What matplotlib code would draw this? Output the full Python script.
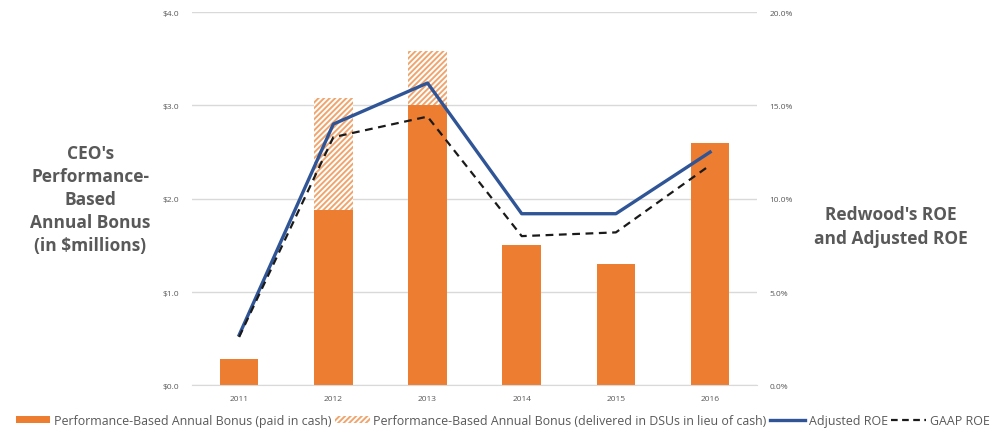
import numpy as np
import matplotlib
matplotlib.use("Agg")
from matplotlib import pyplot as plt
from matplotlib.patches import Patch
from matplotlib.lines import Line2D

# Data
years = ["2011", "2012", "2013", "2014", "2015", "2016"]
bonus_cash = [0.28, 1.88, 3.0, 1.5, 1.3, 2.6]          # $ millions
bonus_dsu = [0.0, 1.2, 0.58, 0.0, 0.0, 0.0]            # stacked on top of cash
adjusted_roe = [2.7, 14.0, 16.2, 9.2, 9.2, 12.5]       # percent
gaap_roe = [2.6, 13.3, 14.4, 8.0, 8.2, 11.8]           # percent

left_ticks = [0, 1, 2, 3, 4]
right_ticks = [0, 5, 10, 15, 20]

orange = "#ED7D31"
hatch_orange = "#F0A56E"
blue = "#2F5597"
gray_txt = "#595959"
grid_col = "#D9D9D9"

plt.rcParams["font.family"] = ["Open Sans", "DejaVu Sans"]
plt.rcParams["hatch.linewidth"] = 1.4

fig = plt.figure(figsize=(9.95, 4.35), dpi=100)
ax = fig.add_axes([0.193, 0.1115, 0.568, 0.8585])
x = np.arange(len(years))

ax.bar(x, bonus_cash, width=0.41, color=orange, zorder=2)
ax.bar(x, bonus_dsu, width=0.41, bottom=bonus_cash, color="white",
       edgecolor=hatch_orange, hatch="//////", linewidth=0, zorder=2)

ax.set_xlim(-0.5, len(years) - 0.5)
ax.set_ylim(0, 4)
ax.set_yticks(left_ticks)
ax.set_yticklabels(["$%.1f" % v for v in left_ticks])
ax.set_xticks(x)
ax.set_xticklabels(years)
ax.yaxis.grid(True, color=grid_col, linewidth=1)
ax.set_axisbelow(True)
for s in ["top", "right", "left"]:
    ax.spines[s].set_visible(False)
ax.spines["bottom"].set_color(grid_col)
ax.tick_params(axis="both", length=0, labelsize=6, colors=gray_txt)
ax.tick_params(axis="y", pad=9)
ax.tick_params(axis="x", pad=7)

ax2 = ax.twinx()
ax2.plot(x, adjusted_roe, color=blue, linewidth=2.4, zorder=3)
ax2.plot(x, gaap_roe, color="#1a1a1a", linewidth=1.6, linestyle=(0, (3.5, 2.5)), zorder=3)
ax2.set_ylim(0, 20)
ax2.set_yticks(right_ticks)
ax2.set_yticklabels(["%.1f%%" % v for v in right_ticks])
for s in ["top", "right", "left", "bottom"]:
    ax2.spines[s].set_visible(False)
ax2.tick_params(axis="y", length=0, labelsize=6, colors=gray_txt, pad=9)

fig.text(0.091, 0.54, "CEO's\nPerformance-\nBased\nAnnual Bonus\n(in $millions)",
         ha="center", va="center", fontsize=12.5, fontweight="bold", color=gray_txt,
         linespacing=1.35)
fig.text(0.895, 0.478, "Redwood's ROE\nand Adjusted ROE",
         ha="center", va="center", fontsize=12.5, fontweight="bold", color=gray_txt,
         linespacing=1.45)

handles = [
    Patch(facecolor=orange, edgecolor="none"),
    Patch(facecolor="white", edgecolor=hatch_orange, hatch="//////", linewidth=0),
    Line2D([], [], color=blue, linewidth=2.4),
    Line2D([], [], color="#1a1a1a", linewidth=1.6, linestyle=(0, (3, 2))),
]
labels = [
    "Performance-Based Annual Bonus (paid in cash)",
    "Performance-Based Annual Bonus (delivered in DSUs in lieu of cash)",
    "Adjusted ROE",
    "GAAP ROE",
]
fig.legend(handles, labels, loc="lower center", bbox_to_anchor=(0.505, -0.01), ncol=4,
           frameon=False, fontsize=8.9, labelcolor=gray_txt, handlelength=2.8,
           handletextpad=0.3, columnspacing=0.3, handleheight=0.5)

fig.savefig("out.png", dpi=100)
